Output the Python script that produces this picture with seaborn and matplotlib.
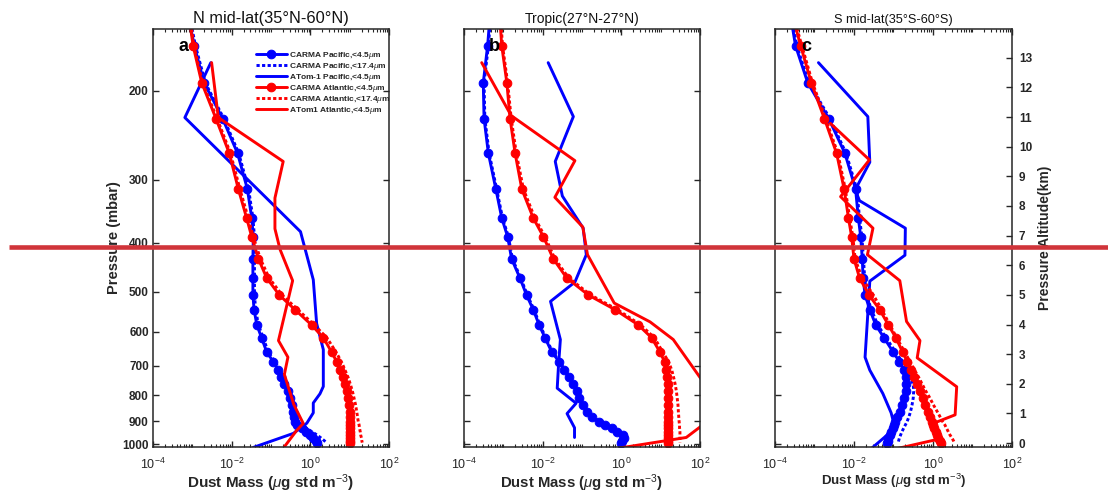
import numpy as np
import pandas as pd
import matplotlib
matplotlib.use("Agg")
import matplotlib.pyplot as plt
import seaborn as sns
from matplotlib.lines import Line2D
from matplotlib.ticker import FixedLocator, LogLocator, NullLocator, NullFormatter, FixedFormatter

# ---------------------------------------------------------------------------
# Data: dust mass profiles, values stored as log10(ug std m^-3)
# ---------------------------------------------------------------------------
# CARMA model mid-level pressures (mbar)
P_MODEL = [140, 163, 193, 227, 266, 313, 357, 389, 430, 469, 507, 542, 581, 616,
           657, 687, 713, 738, 762, 786, 810, 836, 863, 883, 904, 916, 929, 946,
           959, 972, 985, 993]

# --- N mid-lat (35N-60N) ---
carma_pac_fine_a = [-3.12, -2.95, -2.70, -2.23, -1.85, -1.60, -1.49, -1.45, -1.46, -1.46,
                    -1.46, -1.43, -1.36, -1.24, -1.11, -0.94, -0.81, -0.74, -0.66, -0.58,
                    -0.52, -0.47, -0.44, -0.42, -0.40, -0.33, -0.22, -0.10, 0.00, 0.07,
                    0.14, 0.17]
carma_pac_coarse_a = [-3.09, -2.92, -2.67, -2.20, -1.82, -1.57, -1.46, -1.42, -1.42, -1.42,
                      -1.42, -1.39, -1.32, -1.20, -1.07, -0.90, -0.77, -0.69, -0.61, -0.53,
                      -0.47, -0.42, -0.39, -0.36, -0.30, -0.22, -0.10, 0.05, 0.17, 0.27,
                      0.36, 0.41]
carma_atl_fine_a = [-3.10, -2.98, -2.76, -2.40, -2.06, -1.83, -1.62, -1.49, -1.32, -1.11,
                    -0.79, -0.39, 0.03, 0.33, 0.54, 0.67, 0.75, 0.82, 0.88, 0.92,
                    0.96, 0.99, 1.00, 1.01, 1.01, 1.02, 1.02, 1.02, 1.02, 1.02,
                    1.02, 1.02]
carma_atl_coarse_a = [-3.08, -2.96, -2.74, -2.37, -2.03, -1.79, -1.58, -1.45, -1.27, -1.05,
                      -0.72, -0.32, 0.10, 0.42, 0.65, 0.79, 0.88, 0.96, 1.02, 1.07,
                      1.11, 1.15, 1.18, 1.20, 1.22, 1.24, 1.25, 1.27, 1.28, 1.30,
                      1.31, 1.32]
atom_pac_p_a = [176, 226, 380, 473, 577, 650, 769, 795, 829, 867, 909, 952, 1015]
atom_pac_a = [-2.53, -3.19, -0.25, 0.075, 0.16, 0.33, 0.33, 0.245, 0.075, 0.075, -0.09, -0.43, -1.45]
atom_atl_p_a = [176, 226, 276, 326, 375, 412, 475, 624, 673, 728, 835, 910, 940, 1012]
atom_atl_a = [-2.51, -2.34, -0.69, -0.90, -0.90, -0.77, -0.45, -0.81, -0.57, -0.66, -0.42, -0.18, -0.35, -0.66]

# --- Tropic (27N-27S) ---
carma_pac_fine_b = [-3.33, -3.40, -3.51, -3.49, -3.38, -3.19, -3.04, -2.89, -2.79, -2.58,
                    -2.41, -2.24, -2.09, -1.94, -1.77, -1.58, -1.46, -1.32, -1.22, -1.13,
                    -1.07, -0.98, -0.88, -0.75, -0.58, -0.41, -0.24, -0.10, 0.05, 0.06,
                    0.01, 0.00]
carma_pac_coarse_b = [-3.31, -3.38, -3.49, -3.47, -3.36, -3.17, -3.02, -2.87, -2.77, -2.56,
                      -2.39, -2.22, -2.07, -1.92, -1.75, -1.56, -1.44, -1.30, -1.20, -1.11,
                      -1.05, -0.96, -0.86, -0.72, -0.55, -0.38, -0.21, -0.07, 0.08, 0.10,
                      0.06, 0.05]
carma_atl_fine_b = [-3.10, -3.04, -2.91, -2.83, -2.70, -2.53, -2.24, -1.98, -1.73, -1.39,
                    -0.84, -0.16, 0.43, 0.77, 0.98, 1.10, 1.14, 1.16, 1.18, 1.19,
                    1.19, 1.19, 1.19, 1.19, 1.19, 1.19, 1.19, 1.19, 1.19, 1.19,
                    1.19, 1.19]
carma_atl_coarse_b = [-3.08, -3.02, -2.89, -2.80, -2.67, -2.49, -2.20, -1.94, -1.69, -1.34,
                      -0.78, -0.10, 0.49, 0.84, 1.05, 1.20, 1.28, 1.33, 1.37, 1.40,
                      1.42, 1.44, 1.45, 1.46, 1.47, 1.48, 1.48, 1.49, 1.49, 1.49,
                      1.49, 1.49]
atom_pac_p_b = [176, 225, 276, 323, 374, 422, 478, 522, 621, 705, 775, 830, 870, 928, 970]
atom_pac_b = [-1.86, -1.22, -1.68, -1.50, -0.97, -0.89, -1.18, -1.80, -1.55, -1.60, -1.63,
              -1.15, -1.38, -1.19, -1.19]
atom_atl_p_b = [176, 224, 275, 325, 372, 422, 526, 573, 621, 855, 970, 1018]
atom_atl_b = [-3.55, -2.80, -1.18, -1.69, -0.98, -0.86, -0.18, 0.73, 1.32, 2.58, 1.65, -0.05]

# --- S mid-lat (35S-60S) ---
carma_pac_fine_c = [-3.62, -3.48, -3.17, -2.64, -2.23, -1.96, -1.89, -1.83, -1.79, -1.77,
                    -1.72, -1.60, -1.45, -1.24, -1.01, -0.85, -0.74, -0.69, -0.68, -0.69,
                    -0.74, -0.79, -0.84, -0.90, -0.96, -0.99, -1.02, -1.07, -1.10, -1.13,
                    -1.15, -1.16]
carma_pac_coarse_c = [-3.59, -3.45, -3.14, -2.61, -2.20, -1.93, -1.86, -1.80, -1.76, -1.73,
                      -1.68, -1.56, -1.40, -1.19, -0.95, -0.78, -0.66, -0.58, -0.50, -0.49,
                      -0.50, -0.53, -0.57, -0.61, -0.66, -0.70, -0.74, -0.79, -0.82, -0.85,
                      -0.87, -0.88]
carma_atl_fine_c = [-3.58, -3.35, -3.08, -2.75, -2.44, -2.25, -2.14, -2.06, -2.00, -1.86,
                    -1.62, -1.35, -1.13, -0.94, -0.77, -0.65, -0.55, -0.47, -0.40, -0.33,
                    -0.26, -0.19, -0.13, -0.08, -0.03, 0.00, 0.03, 0.07, 0.10, 0.13,
                    0.17, 0.20]
carma_atl_coarse_c = [-3.56, -3.32, -3.05, -2.72, -2.41, -2.22, -2.11, -2.03, -1.97, -1.80,
                      -1.51, -1.30, -1.09, -0.92, -0.72, -0.58, -0.47, -0.36, -0.27, -0.18,
                      -0.08, 0.01, 0.11, 0.18, 0.25, 0.30, 0.34, 0.39, 0.43, 0.48,
                      0.52, 0.54]
atom_pac_p_c = [176, 225, 277, 314, 330, 374, 423, 476, 536, 673, 714, 794, 867, 930, 1017]
atom_pac_c = [-2.90, -1.65, -1.60, -1.97, -1.86, -0.70, -0.71, -1.60, -1.64, -1.72, -1.60,
              -1.27, -1.06, -0.96, -1.54]
atom_atl_p_c = [232, 274, 324, 374, 422, 475, 572, 624, 675, 770, 875, 912, 975, 1020]
atom_atl_c = [-2.60, -1.61, -2.34, -1.52, -1.66, -0.84, -0.67, -0.33, -0.40, 0.60, 0.56,
              -0.03, 0.20, -0.90]

TITLES = ["N mid-lat(35\u00b0N-60\u00b0N)", "Tropic(27\u00b0N-27\u00b0N)", "S mid-lat(35\u00b0S-60\u00b0S)"]
PANEL_TAGS = ["a", "b", "c"]
LABELS = [r"CARMA Pacific,<4.5$\mu$m", r"CARMA Pacific,<17.4$\mu$m", r"ATom-1 Pacific,<4.5$\mu$m",
          r"CARMA Atlantic,<4.5$\mu$m", r"CARMA Atlantic,<17.4$\mu$m", r"ATom1 Atlantic,<4.5$\mu$m"]
P_TICKS = [200, 300, 400, 500, 600, 700, 800, 900, 1000]
X_TICKS = [1e-4, 1e-2, 1e0, 1e2]
X_TICKLABELS = [r"$10^{-4}$", r"$10^{-2}$", r"$10^{0}$", r"$10^{2}$"]
Z_TICKS = list(range(0, 14))

panels = [
    (carma_pac_fine_a, carma_pac_coarse_a, atom_pac_p_a, atom_pac_a,
     carma_atl_fine_a, carma_atl_coarse_a, atom_atl_p_a, atom_atl_a),
    (carma_pac_fine_b, carma_pac_coarse_b, atom_pac_p_b, atom_pac_b,
     carma_atl_fine_b, carma_atl_coarse_b, atom_atl_p_b, atom_atl_b),
    (carma_pac_fine_c, carma_pac_coarse_c, atom_pac_p_c, atom_pac_c,
     carma_atl_fine_c, carma_atl_coarse_c, atom_atl_p_c, atom_atl_c),
]

# ---------------------------------------------------------------------------
# Style
# ---------------------------------------------------------------------------
sns.set_theme(style="ticks")
plt.rcParams["font.family"] = ["Liberation Sans", "DejaVu Sans"]
plt.rcParams["mathtext.fontset"] = "custom"
plt.rcParams["mathtext.rm"] = "Liberation Sans"
plt.rcParams["mathtext.it"] = "Liberation Sans:italic"
plt.rcParams["mathtext.bf"] = "Liberation Sans:bold"

FRAME = "#262626"
BLUE = "#0000ff"
RED = "#ff0000"
DOT = (0, (1.1, 0.8))

P_BOTTOM, P_TOP = 1013, 151
H_SCALE, P_SURF = 7.41, 995.0   # pressure-altitude conversion

W, H = 1108, 495
fig = plt.figure(figsize=(W / 100, H / 100), dpi=100)
lefts = [153, 464, 775]
widths = [236, 236, 237]
ax_bottom, ax_top = 447, 29

title_sizes = [11.8, 10.0, 9.2]
xlabel_sizes = [11.0, 10.7, 9.5]

axes = []
for i, (left, wd) in enumerate(zip(lefts, widths)):
    ax = fig.add_axes([left / W, 1 - ax_bottom / H, wd / W, (ax_bottom - ax_top) / H])
    ax.set_xscale("log")
    ax.set_yscale("log")
    ax.set_xlim(1e-4, 1e2)
    ax.set_ylim(P_BOTTOM, P_TOP)

    (pf, pc, pp, pv, af, ac, ap, av) = panels[i]
    p_model = np.array(P_MODEL, dtype=float)

    series = [
        (10 ** np.array(pf), p_model, BLUE, "-", "o", LABELS[0]),
        (10 ** np.array(pc), p_model, BLUE, DOT, None, LABELS[1]),
        (10 ** np.array(pv), np.array(pp, dtype=float), BLUE, "-", None, LABELS[2]),
        (10 ** np.array(af), p_model, RED, "-", "o", LABELS[3]),
        (10 ** np.array(ac), p_model, RED, DOT, None, LABELS[4]),
        (10 ** np.array(av), np.array(ap, dtype=float), RED, "-", None, LABELS[5]),
    ]
    for x, y, color, ls, mk, lab in series:
        df = pd.DataFrame({"mass": x, "pressure": y})
        kw = dict(marker=mk, markersize=6.2, markeredgecolor=color, markerfacecolor=color) if mk else {}
        sns.lineplot(data=df, x="mass", y="pressure", sort=False, estimator=None,
                     color=color, linestyle=ls, linewidth=2.1, ax=ax, label=lab,
                     legend=False, **kw)

    # frame and ticks
    for sp in ax.spines.values():
        sp.set_color(FRAME)
        sp.set_linewidth(1.1)
    ax.xaxis.set_major_locator(FixedLocator(X_TICKS))
    ax.xaxis.set_major_formatter(FixedFormatter(X_TICKLABELS))
    ax.xaxis.set_minor_locator(LogLocator(base=10, subs=np.arange(1, 10), numticks=30))
    ax.xaxis.set_minor_formatter(NullFormatter())
    ax.yaxis.set_major_locator(FixedLocator(P_TICKS))
    ax.yaxis.set_minor_locator(NullLocator())
    if i == 0:
        ax.yaxis.set_major_formatter(FixedFormatter([str(t) for t in P_TICKS]))
    else:
        ax.yaxis.set_major_formatter(NullFormatter())
    ax.yaxis.set_minor_formatter(NullFormatter())
    ax.tick_params(axis="both", which="both", direction="in", color=FRAME,
                   top=True, right=(i < 2))
    ax.tick_params(axis="both", which="major", length=4.0, width=1.0)
    ax.tick_params(axis="both", which="minor", length=2.2, width=0.8)
    ax.tick_params(axis="x", which="major", labelsize=9, pad=7, labelcolor="#262626")
    ax.tick_params(axis="y", which="major", labelsize=8.5, pad=3, labelcolor="#262626")
    for lbl in ax.get_yticklabels():
        lbl.set_fontweight("bold")

    ax.set_title(TITLES[i], fontsize=title_sizes[i], pad=4, color="#111111")
    ax.set_xlabel(r"Dust Mass ($\mu$g std m$^{-3}$)", fontsize=xlabel_sizes[i],
                  fontweight="bold", labelpad=0.0, color="#262626")
    ax.set_ylabel("")
    ax.text(0.13, 0.958, PANEL_TAGS[i], transform=ax.transAxes, fontsize=13,
            fontweight="bold", ha="center", va="center", color="black")
    axes.append(ax)

axes[0].set_ylabel("Pressure (mbar)", fontsize=10.5, fontweight="bold",
                   labelpad=1, color="#262626")

# legend for the six profile types
handles, labels = axes[0].get_legend_handles_labels()
axes[0].legend(handles, labels, loc="upper left", bbox_to_anchor=(0.435, 0.95),
               frameon=False, fontsize=6.0, handlelength=3.8, handletextpad=0.15,
               handleheight=0.4, labelspacing=0.0, borderpad=0.0, borderaxespad=0.0)
for t in axes[0].get_legend().get_texts():
    t.set_fontweight("bold")

# pressure-altitude scale on the right of the last panel
axz = axes[2].twinx()
axz.set_ylim(H_SCALE * np.log(P_SURF / P_BOTTOM), H_SCALE * np.log(P_SURF / P_TOP))
axz.set_yticks(Z_TICKS)
axz.set_yticklabels([str(z) for z in Z_TICKS])
axz.tick_params(axis="y", direction="in", length=4.0, width=1.0, color=FRAME,
                labelsize=8.5, pad=5, labelcolor="#262626")
for lbl in axz.get_yticklabels():
    lbl.set_fontweight("bold")
axz.set_ylabel("Pressure Altitude(km)", fontsize=10, fontweight="bold",
               labelpad=4, color="#262626")
for sp in axz.spines.values():
    sp.set_visible(False)

# horizontal marker line across the figure
fig.add_artist(Line2D([9 / W, 1.0], [1 - 246.5 / H, 1 - 246.5 / H],
                      transform=fig.transFigure, color="#d0343a", linewidth=3.3,
                      solid_capstyle="butt", zorder=10))

fig.savefig("out.png", dpi=100)
